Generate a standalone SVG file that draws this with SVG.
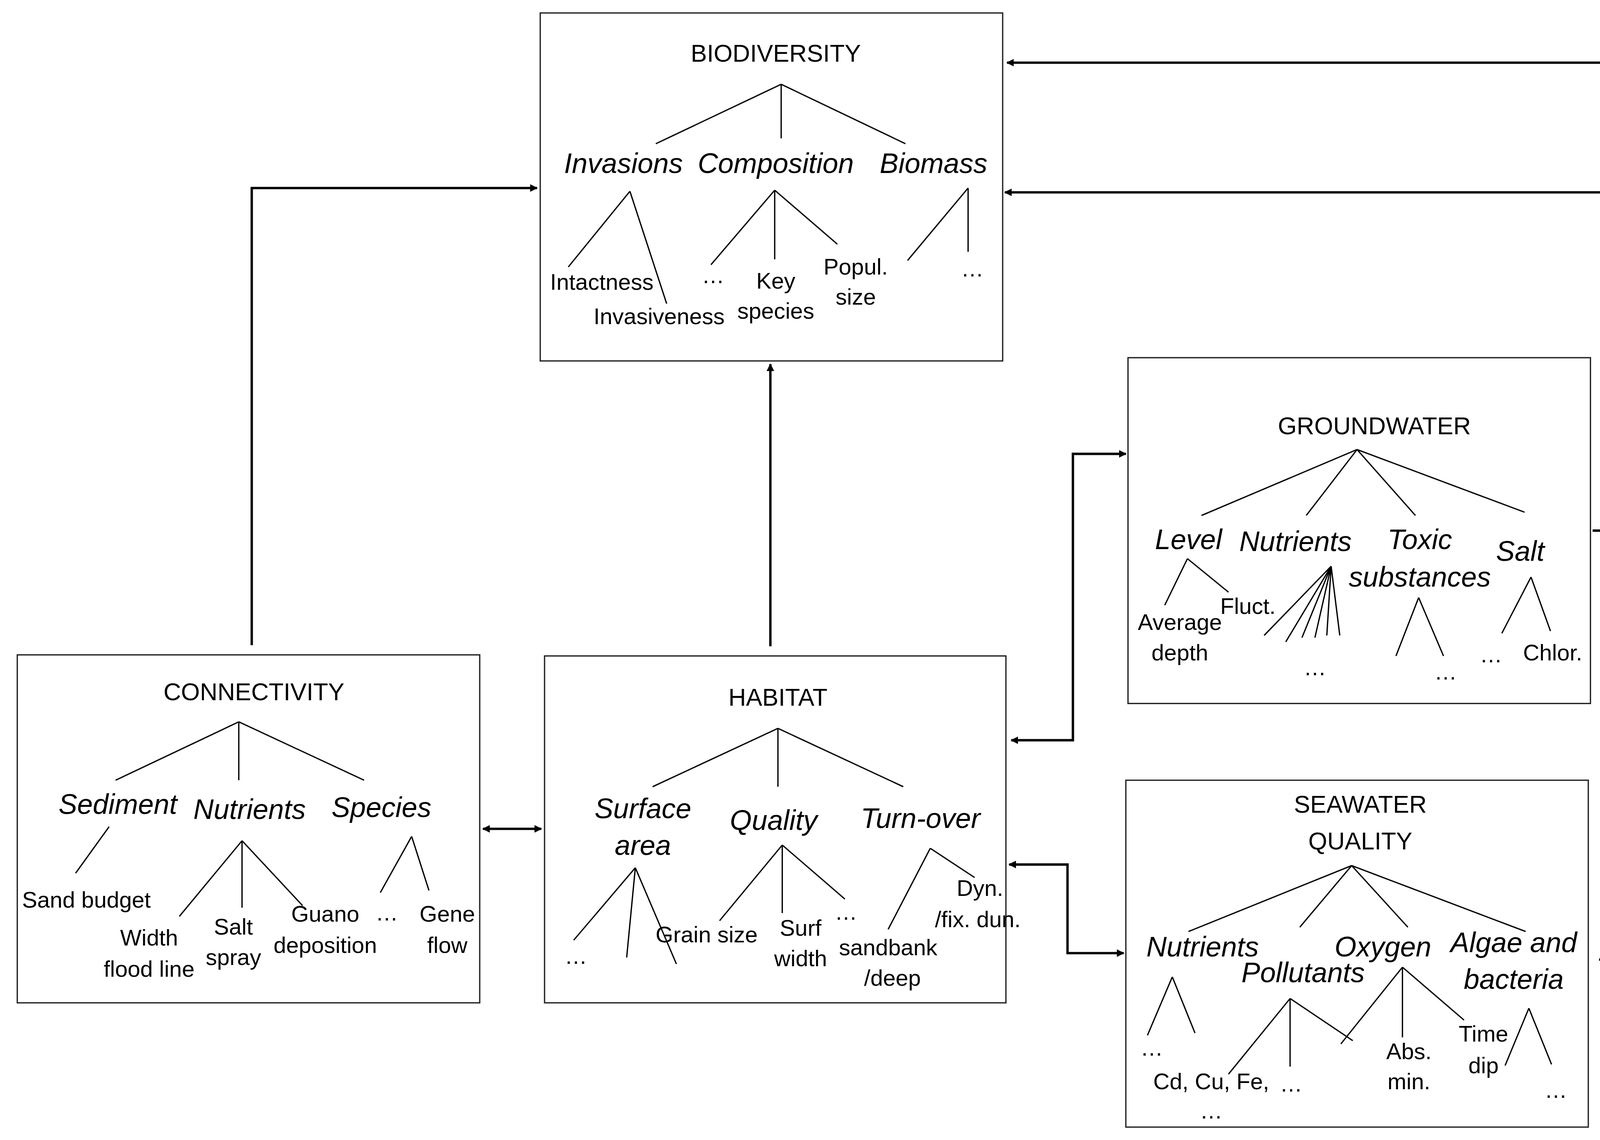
<svg xmlns="http://www.w3.org/2000/svg" width="4315" height="2919" viewBox="0 0 4315 2919">
<defs>
<marker id="ah" viewBox="0 0 10 10" refX="9" refY="5" markerWidth="7" markerHeight="7" orient="auto-start-reverse" markerUnits="userSpaceOnUse"><path d="M0,0 L10,5 L0,10 z" fill="#000"/></marker>
<style>
.box{fill:#fff;stroke:#222;stroke-width:1.2}
.t{fill:none;stroke:#000;stroke-width:1.2}
.c{fill:none;stroke:#000;stroke-width:2.2}
text{font-family:"Liberation Sans",Arial,sans-serif;text-anchor:middle;fill:#000}
.h{font-size:22.5px}
.i{font-size:26px;font-style:italic}
.s{font-size:21px}
</style>
</defs>
<rect width="4315" height="2919" fill="#fff"/>
<g transform="scale(2.766,2.767)">
<g id="connectors">
<path class="c" d="M233,597 V174 H497" marker-end="url(#ah)"/>
<path class="c" d="M713,598 V337" marker-end="url(#ah)"/>
<path class="c" d="M447,767 H501" marker-start="url(#ah)" marker-end="url(#ah)"/>
<path class="c" d="M936,685 H993 V420 H1042" marker-start="url(#ah)" marker-end="url(#ah)"/>
<path class="c" d="M934,800 H988 V882 H1040" marker-start="url(#ah)" marker-end="url(#ah)"/>
<path class="c" d="M1474,491 H1509 V178 H930" marker-end="url(#ah)"/>
<path class="c" d="M1480,888 H1548 V58 H932" marker-end="url(#ah)"/>
</g>
<g id="biodiversity">
<rect class="box" x="500" y="12" width="428" height="322"/>
<text class="h" x="718" y="57">BIODIVERSITY</text>
<path class="t" d="M723,78 L607,133 M723,78 V128 M723,78 L838,133 M583,177 L526,247 M583,177 L617,281 M717,176 L658,245 M717,176 V240 M717,176 L775,226 M896,174 L840,241 M896,174 V233"/>
<text class="i" x="577" y="160">Invasions</text><text class="i" x="718" y="160">Composition</text><text class="i" x="864" y="160">Biomass</text>
<text class="s" x="557" y="268">Intactness</text><text class="s" x="610" y="300">Invasiveness</text><text class="s" x="660" y="262">…</text>
<text class="s" x="718" y="267">Key</text><text class="s" x="718" y="295">species</text>
<text class="s" x="792" y="254">Popul.</text><text class="s" x="792" y="282">size</text><text class="s" x="900" y="256">…</text>
</g>
<g id="groundwater">
<rect class="box" x="1044" y="331" width="428" height="320"/>
<text class="h" x="1272" y="402">GROUNDWATER</text>
<path class="t" d="M1256,416 L1112,477 M1256,416 L1209,477 M1256,416 L1310,477 M1256,416 L1411,474 M1099,517 L1078,560 M1099,517 L1137,548 M1232,524 L1170,588 M1232,524 L1190,594 M1232,524 L1205,590 M1232,524 L1217,590 M1232,524 L1228,588 M1232,524 L1240,588 M1313,553 L1292,607 M1313,553 L1336,607 M1417,534 L1390,586 M1417,534 L1435,584"/>
<text class="i" x="1100" y="508">Level</text><text class="i" x="1199" y="510">Nutrients</text>
<text class="i" x="1314" y="508">Toxic</text><text class="i" x="1314" y="543">substances</text><text class="i" x="1407" y="519">Salt</text>
<text class="s" x="1092" y="583">Average</text><text class="s" x="1092" y="611">depth</text><text class="s" x="1155" y="568">Fluct.</text>
<text class="s" x="1217" y="625">…</text><text class="s" x="1338" y="629">…</text><text class="s" x="1380" y="613">…</text><text class="s" x="1437" y="611">Chlor.</text>
</g>
<g id="connectivity">
<rect class="box" x="16" y="606" width="428" height="322"/>
<text class="h" x="235" y="648">CONNECTIVITY</text>
<path class="t" d="M221,668 L107,722 M221,668 V722 M221,668 L337,722 M101,765 L70,808 M224,778 L166,848 M224,778 V840 M224,778 L280,838 M381,774 L352,826 M381,774 L397,824"/>
<text class="i" x="109" y="753">Sediment</text><text class="i" x="231" y="758">Nutrients</text><text class="i" x="353" y="756">Species</text>
<text class="s" x="80" y="840">Sand budget</text><text class="s" x="138" y="875">Width</text><text class="s" x="138" y="904">flood line</text>
<text class="s" x="216" y="865">Salt</text><text class="s" x="216" y="893">spray</text><text class="s" x="301" y="853">Guano</text><text class="s" x="301" y="882">deposition</text>
<text class="s" x="358" y="852">…</text><text class="s" x="414" y="853">Gene</text><text class="s" x="414" y="882">flow</text>
</g>
<g id="habitat">
<rect class="box" x="504" y="607" width="427" height="321"/>
<text class="h" x="720" y="653">HABITAT</text>
<path class="t" d="M720,674 L604,728 M720,674 V728 M720,674 L836,728 M588,803 L531,870 M588,803 L580,886 M588,803 L626,892 M724,782 L666,852 M724,782 V845 M724,782 L782,832 M861,785 L822,860 M861,785 L902,812"/>
<text class="i" x="595" y="757">Surface</text><text class="i" x="595" y="791">area</text><text class="i" x="716" y="768">Quality</text><text class="i" x="852" y="766">Turn-over</text>
<text class="s" x="533" y="892">…</text><text class="s" x="654" y="872">Grain size</text><text class="s" x="741" y="866">Surf</text><text class="s" x="741" y="894">width</text><text class="s" x="783" y="851">…</text>
<text class="s" x="907" y="829">Dyn.</text><text class="s" x="905" y="858">/fix. dun.</text><text class="s" x="822" y="884">sandbank</text><text class="s" x="826" y="912">/deep</text>
</g>
<g id="seawater">
<rect class="box" x="1042" y="722" width="428" height="321"/>
<text class="h" x="1259" y="752">SEAWATER</text><text class="h" x="1259" y="786">QUALITY</text>
<path class="t" d="M1251,801 L1100,862 M1251,801 L1203,858 M1251,801 L1303,858 M1251,801 L1412,862 M1085,904 L1062,958 M1085,904 L1106,956 M1194,924 L1137,994 M1194,924 V987 M1194,924 L1252,963 M1298,895 L1241,966 M1298,895 V960 M1298,895 L1355,944 M1415,933 L1393,986 M1415,933 L1436,985"/>
<text class="i" x="1113" y="885">Nutrients</text><text class="i" x="1206" y="909">Pollutants</text><text class="i" x="1280" y="885">Oxygen</text>
<text class="i" x="1401" y="881">Algae and</text><text class="i" x="1401" y="915">bacteria</text>
<text class="s" x="1066" y="977">…</text><text class="s" x="1121" y="1008">Cd, Cu, Fe,</text><text class="s" x="1121" y="1035">…</text><text class="s" x="1195" y="1010">…</text>
<text class="s" x="1304" y="980">Abs.</text><text class="s" x="1304" y="1008">min.</text><text class="s" x="1373" y="964">Time</text><text class="s" x="1373" y="993">dip</text><text class="s" x="1440" y="1016">…</text>
</g>
</g>
</svg>
